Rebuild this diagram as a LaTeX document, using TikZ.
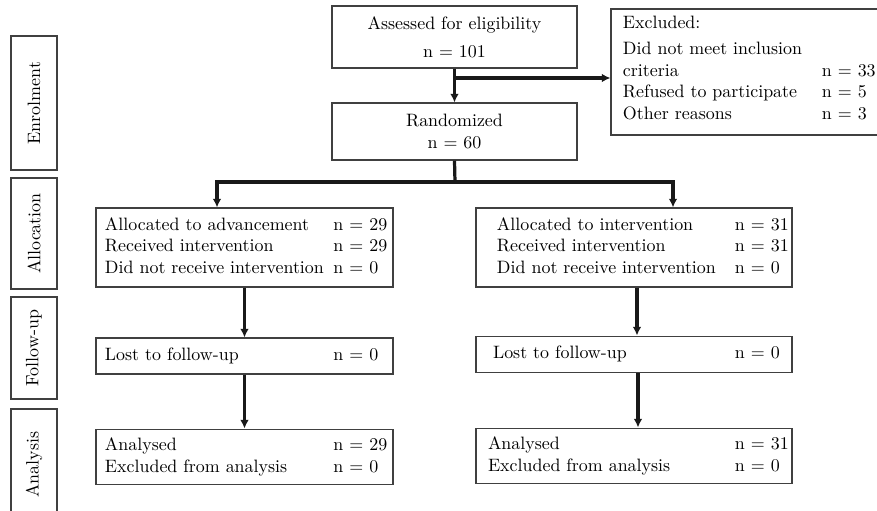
\documentclass[tikz,border=0pt]{standalone}
\usepackage{amsmath}
\usetikzlibrary{arrows.meta,calc}

\tikzset{
  box/.style={draw=black!75, line width=0.6pt, inner xsep=0pt, inner ysep=1pt, align=left},
  stage/.style={draw=black!75, line width=0.6pt, rotate=90, minimum height=25.7pt, inner sep=0pt},
  arrow/.style={line width=1.8pt, black!90, -{Latex[length=4.8pt,width=4.8pt]}},
  link/.style={line width=1.8pt, black!90}
}

\begin{document}
\begin{tikzpicture}[x=0.558pt, y=-0.558pt]
\useasboundingbox (0,0) rectangle (877,511);

% stages on the left
\node [stage, minimum width=74.8pt] (enrol) at (34,103) {Enrolment};
\node [stage, minimum width=61.9pt] (alloc) at (34,233.5) {Allocation};
\node [stage, minimum width=56.9pt] (follow) at (34,348) {Follow-up};
\node [stage, minimum width=61.9pt] (analys) at (34,464.5) {Analysis};

% enrolment
\node [box, align=center, text width=136.7pt, minimum height=34.6pt] (assess) at (454.5,37)
  {Assessed for eligibility\\[3.6pt] n $=$ 101\\[-1pt]};
\node [box, align=center, text width=136.7pt, minimum height=31.8pt] (rand) at (454.5,131.5)
  {Randomized\\ n $=$ 60};
\node [box, text width=155.7pt, minimum height=70.3pt] (excl) at (750.5,72)
  {\begin{tabular}{@{\hspace{6.7pt}}p{111pt}@{}l@{}}
   Excluded: & \\[2.8pt]
   Did not meet inclusion & \\
   criteria & n $=$ 33\\
   Refused to participate & n $=$ 5\\
   Other reasons & n $=$ 3\\[2.8pt]
   \end{tabular}};

% allocation
\node [box, text width=165.7pt, minimum height=44.1pt] (allocL) at (244.5,247.5)
  {\begin{tabular}{@{\hspace{5pt}}p{127.5pt}@{}l@{}}
   Allocated to advancement & n $=$ 29\\
   Received intervention & n $=$ 29\\
   Did not receive intervention & n $=$ 0
   \end{tabular}};
\node [box, text width=176.3pt, minimum height=44.1pt] (allocR) at (634,247.5)
  {\begin{tabular}{@{\hspace{11.7pt}}p{132.8pt}@{}l@{}}
   Allocated to intervention & n $=$ 31\\
   Received intervention & n $=$ 31\\
   Did not receive intervention & n $=$ 0
   \end{tabular}};

% follow-up
\node [box, text width=165.7pt, minimum height=20.1pt] (followL) at (244.5,356)
  {\begin{tabular}{@{\hspace{5pt}}p{127.5pt}@{}l@{}}
   Lost to follow-up & n $=$ 0
   \end{tabular}};
\node [box, text width=176.3pt, minimum height=20.6pt] (followR) at (634,354.5)
  {\begin{tabular}{@{\hspace{9.5pt}}p{135pt}@{}l@{}}
   Lost to follow-up & n $=$ 0
   \end{tabular}};

% analysis
\node [box, text width=165.7pt, minimum height=31.2pt] (analL) at (244.5,457)
  {\begin{tabular}{@{\hspace{5pt}}p{127.5pt}@{}l@{}}
   Analysed & n $=$ 29\\
   Excluded from analysis & n $=$ 0
   \end{tabular}};
\node [box, text width=176.3pt, minimum height=31.2pt] (analR) at (634,456)
  {\begin{tabular}{@{\hspace{6.7pt}}p{137.8pt}@{}l@{}}
   Analysed & n $=$ 31\\
   Excluded from analysis & n $=$ 0
   \end{tabular}};

% connectors
\coordinate (split) at (455,78);
\coordinate (branch) at (455,182);
\draw [arrow] (assess.south) -- (rand.north);
\draw [arrow] (split) -- (split -| excl.west);
\draw [link] (rand.south) -- (branch);
\draw [arrow] (branch) -| ($(allocL.north)+(-27.5,0)$);
\draw [arrow] (branch) -| ($(allocR.north)+(39,0)$);

\draw [arrow] (allocL.south) -- (followL.north);
\draw [arrow] (followL.south) -- (analL.north);
\draw [arrow] ($(allocR.south)+(3,0)$) -- ($(followR.north)+(3,0)$);
\draw [arrow] ($(followR.south)+(4,0)$) -- ($(analR.north)+(4,0)$);

\end{tikzpicture}
\end{document}
